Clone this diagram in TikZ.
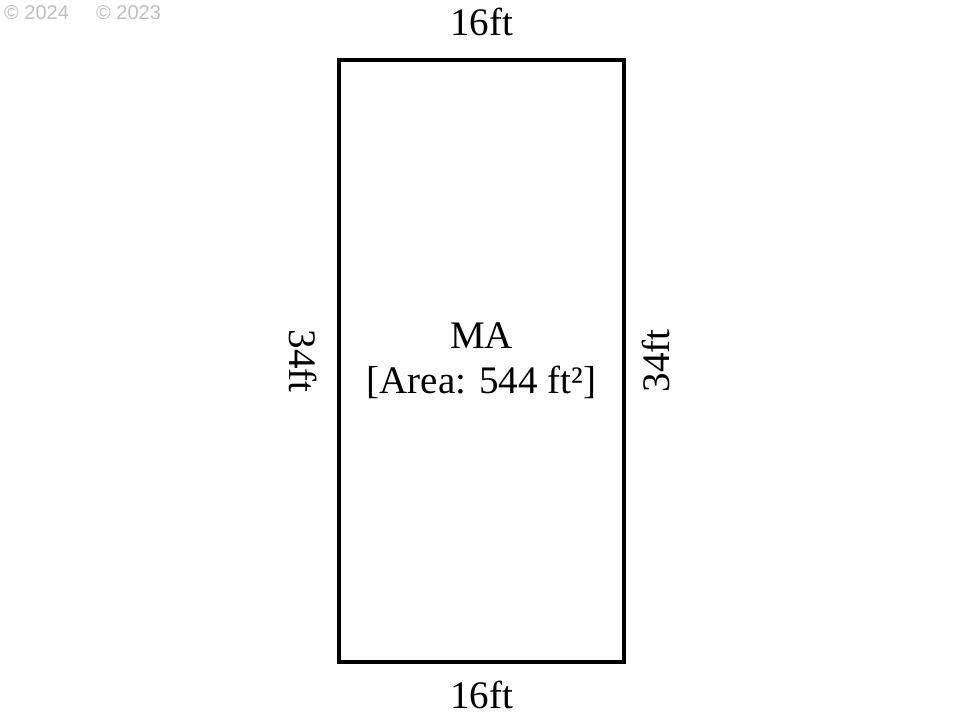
\documentclass[tikz,border=0pt]{standalone}
\usepackage{fontspec}
\setmainfont{Liberation Serif}
\newfontfamily\wmfont{Liberation Sans}
\usetikzlibrary{positioning}
\begin{document}
\begin{tikzpicture}[x=1pt, y=1pt,
    room/.style={draw, line width=4.5pt, inner sep=0pt, align=center,
      font=\fontsize{39}{45}\selectfont},
    dimlabel/.style={inner sep=0pt, font=\fontsize{39}{45}\selectfont},
    wmark/.style={inner sep=0pt, anchor=west, text=black!25,
      font=\wmfont\fontsize{20}{24}\selectfont}]
  \useasboundingbox (0, 0) rectangle (964, 723);

  \node [room, minimum width=285pt, minimum height=602pt] (ma) at (481.5, 362)
    {MA\\{[Area: 544 ft²]}};

  \node [dimlabel, above=22pt of ma] (wtop) {16ft};
  \node [dimlabel, below=17pt of ma] (wbottom) {16ft};
  \node [dimlabel, rotate=-90] (wleft) at ([xshift=-34pt]ma.west) {34ft};
  \node [dimlabel, rotate=90] (wright) at ([xshift=30pt]ma.east) {34ft};

  \node [wmark] (wma) at (4, 710) {© 2024};
  \node [wmark] (wmb) at (96, 710) {© 2023};
\end{tikzpicture}
\end{document}
